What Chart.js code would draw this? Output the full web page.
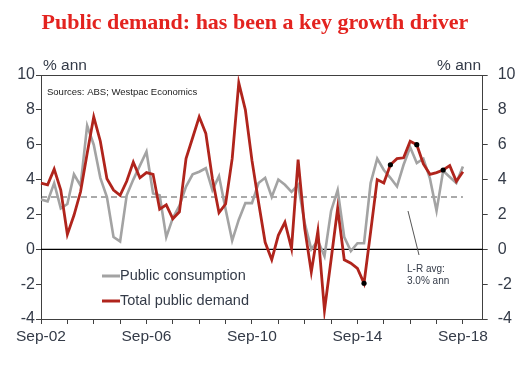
<!DOCTYPE html>
<html><head><meta charset="utf-8">
<script src="https://cdn.jsdelivr.net/npm/chart.js@4/dist/chart.umd.min.js"></script>
<style>html,body{margin:0;padding:0;background:#fff;}#wrap{width:527px;height:367px;position:relative;}</style>
</head><body><div id="wrap"><canvas id="c" width="527" height="367"></canvas></div>
<script>
const quarters = [
 'Sep-02','Dec-02',
 'Mar-03','Jun-03','Sep-03','Dec-03','Mar-04','Jun-04','Sep-04','Dec-04',
 'Mar-05','Jun-05','Sep-05','Dec-05','Mar-06','Jun-06','Sep-06','Dec-06',
 'Mar-07','Jun-07','Sep-07','Dec-07','Mar-08','Jun-08','Sep-08','Dec-08',
 'Mar-09','Jun-09','Sep-09','Dec-09','Mar-10','Jun-10','Sep-10','Dec-10',
 'Mar-11','Jun-11','Sep-11','Dec-11','Mar-12','Jun-12','Sep-12','Dec-12',
 'Mar-13','Jun-13','Sep-13','Dec-13','Mar-14','Jun-14','Sep-14','Dec-14',
 'Mar-15','Jun-15','Sep-15','Dec-15','Mar-16','Jun-16','Sep-16','Dec-16',
 'Mar-17','Jun-17','Sep-17','Dec-17','Mar-18','Jun-18','Sep-18','Dec-18',
 'Mar-19','Jun-19'
];
const publicConsumption = [
 2.85,2.75,3.8,2.35,2.6,4.3,3.65,7.1,6.0,4.1,
 3.0,0.7,0.45,3.1,4.0,4.8,5.6,3.2,3.1,0.7,
 1.8,2.5,3.6,4.3,4.45,4.65,3.4,4.2,2.3,0.5,
 1.7,2.65,2.65,3.8,4.1,3.0,4.0,3.7,3.3,3.7,
 1.5,0.0,0.5,-0.4,2.2,3.4,0.7,-0.1,0.35,0.35,
 3.8,5.2,4.55,4.1,3.6,4.85,5.85,4.95,5.2,4.05,
 2.2,4.5,4.15,3.8,4.75
];
const totalPublicDemand = [
 3.8,3.7,4.6,3.4,0.85,1.95,3.3,5.5,7.6,6.2,
 4.05,3.4,3.1,3.9,5.0,4.1,4.4,4.3,2.3,2.55,
 1.75,2.15,5.2,6.4,7.6,6.65,4.05,2.1,2.6,5.2,
 9.55,8.0,5.1,2.7,0.4,-0.6,0.8,1.55,0.05,5.15,
 1.2,-1.3,1.05,-3.5,-0.6,2.35,-0.6,-0.8,-1.1,-1.95,
 1.0,4.0,3.8,4.85,5.2,5.25,6.2,6.0,4.9,4.3,
 4.4,4.55,4.8,3.9,4.45
];
const xTickLabels = ['Sep-02','Sep-06','Sep-10','Sep-14','Sep-18'];
const markedQuarters = ['Dec-14','Dec-15','Dec-16','Dec-17'];
const longRunAvg = 3.0;
const yMin = -4, yMax = 10, yStep = 2;

const TXT = '#343b48';
const AX = '#404040';
const RED = '#b0241c';
const GREY = '#a3a3a3';
const FONT = '"Liberation Sans", Arial, sans-serif';

const extras = {
  id: 'extras',
  beforeDatasetsDraw(chart) {
    const {ctx, chartArea: a, scales} = chart;
    const y = scales.y, x = scales.x;
    ctx.save();
    ctx.strokeStyle = '#555';
    ctx.lineWidth = 1;
    ctx.setLineDash([6, 4]);
    const ya = y.getPixelForValue(longRunAvg);
    ctx.beginPath();
    ctx.moveTo(x.getPixelForValue(0), ya);
    ctx.lineTo(x.getPixelForValue(quarters.indexOf('Sep-18')), ya);
    ctx.stroke();
    ctx.setLineDash([]);
    const y0 = y.getPixelForValue(0);
    ctx.strokeStyle = '#000';
    ctx.lineWidth = 1.3;
    ctx.beginPath();
    ctx.moveTo(a.left, y0); ctx.lineTo(a.right, y0);
    ctx.stroke();
    ctx.strokeStyle = AX;
    ctx.lineWidth = 1;
    ctx.beginPath();
    ctx.moveTo(a.left, a.top + 0.5); ctx.lineTo(a.right, a.top + 0.5);
    ctx.stroke();
    ctx.restore();
  },
  afterDraw(chart) {
    const {ctx} = chart;
    ctx.save();
    ctx.fillStyle = '#e3231f';
    ctx.font = 'bold 22px "Liberation Serif", "Times New Roman", serif';
    ctx.textAlign = 'center';
    ctx.textBaseline = 'alphabetic';
    ctx.fillText('Public demand: has been a key growth driver', 255, 29);
    ctx.fillStyle = TXT;
    ctx.font = '15.5px ' + FONT;
    ctx.textBaseline = 'middle';
    ctx.textAlign = 'left';
    ctx.fillText('% ann', 43, 66);
    ctx.textAlign = 'right';
    ctx.fillText('% ann', 481, 66);
    ctx.textAlign = 'left';
    ctx.font = '9.5px ' + FONT;
    ctx.fillStyle = '#222';
    ctx.fillText('Sources: ABS; Westpac Economics', 47, 92);
    ctx.font = '10px ' + FONT;
    ctx.fillStyle = TXT;
    ctx.fillText('L-R avg:', 407, 269);
    ctx.fillText('3.0% ann', 407, 281);
    ctx.strokeStyle = '#555';
    ctx.lineWidth = 1;
    ctx.beginPath();
    ctx.moveTo(408, 211); ctx.lineTo(419, 255);
    ctx.stroke();
    const items = [[chart.data.datasets[1], 276], [chart.data.datasets[0], 301]];
    ctx.font = '14.5px ' + FONT;
    for (const [ds, yy] of items) {
      ctx.strokeStyle = ds.borderColor;
      ctx.lineWidth = 3;
      ctx.beginPath();
      ctx.moveTo(102, yy); ctx.lineTo(120, yy);
      ctx.stroke();
      ctx.fillStyle = TXT;
      ctx.fillText(ds.label, 120, yy);
    }
    ctx.restore();
  }
};

const markRadius = c => markedQuarters.includes(quarters[c.dataIndex]) ? 2.6 : 0;

new Chart(document.getElementById('c'), {
  type: 'line',
  data: {
    labels: quarters,
    datasets: [
      { label: 'Total public demand', data: totalPublicDemand, borderColor: RED, backgroundColor: RED,
        borderWidth: 2.8, pointRadius: markRadius, pointBackgroundColor: '#000', pointBorderWidth: 0,
        tension: 0, yAxisID: 'y', order: 1 },
      { label: 'Public consumption', data: publicConsumption, borderColor: GREY, backgroundColor: GREY,
        borderWidth: 2.6, pointRadius: 0, tension: 0, yAxisID: 'y', order: 2 }
    ]
  },
  options: {
    responsive: false,
    animation: false,
    layout: { padding: { top: 75, left: 0, right: 0, bottom: 0 } },
    plugins: { legend: { display: false }, tooltip: { enabled: false }, title: { display: false } },
    scales: {
      x: {
        type: 'category', offset: false,
        afterFit: s => { s.height = 48; },
        border: { display: true, color: AX, width: 1 },
        grid: { drawOnChartArea: false, drawTicks: true, tickLength: 5,
          tickColor: c => (c.index % 4 === 0 && c.index <= 64) ? AX : 'rgba(0,0,0,0)' },
        ticks: { autoSkip: false, maxRotation: 0, minRotation: 0, padding: 3, color: TXT,
          font: { family: FONT, size: 15.5 },
          callback: (v, i) => xTickLabels.includes(quarters[i]) ? quarters[i] : '' }
      },
      y: {
        position: 'left', min: yMin, max: yMax,
        afterFit: s => { s.width = 41; },
        border: { display: true, color: AX, width: 1 },
        grid: { drawOnChartArea: false, tickLength: 5, tickColor: AX },
        ticks: { stepSize: yStep, padding: 1, color: TXT, font: { family: FONT, size: 16 } }
      },
      y2: {
        position: 'right', min: yMin, max: yMax, display: true,
        afterFit: s => { s.width = 44.3; },
        border: { display: true, color: AX, width: 1 },
        grid: { drawOnChartArea: false, tickLength: 5, tickColor: AX },
        ticks: { stepSize: yStep, padding: 10, color: TXT, font: { family: FONT, size: 16 } }
      }
    }
  },
  plugins: [extras]
});
</script>
</body></html>
